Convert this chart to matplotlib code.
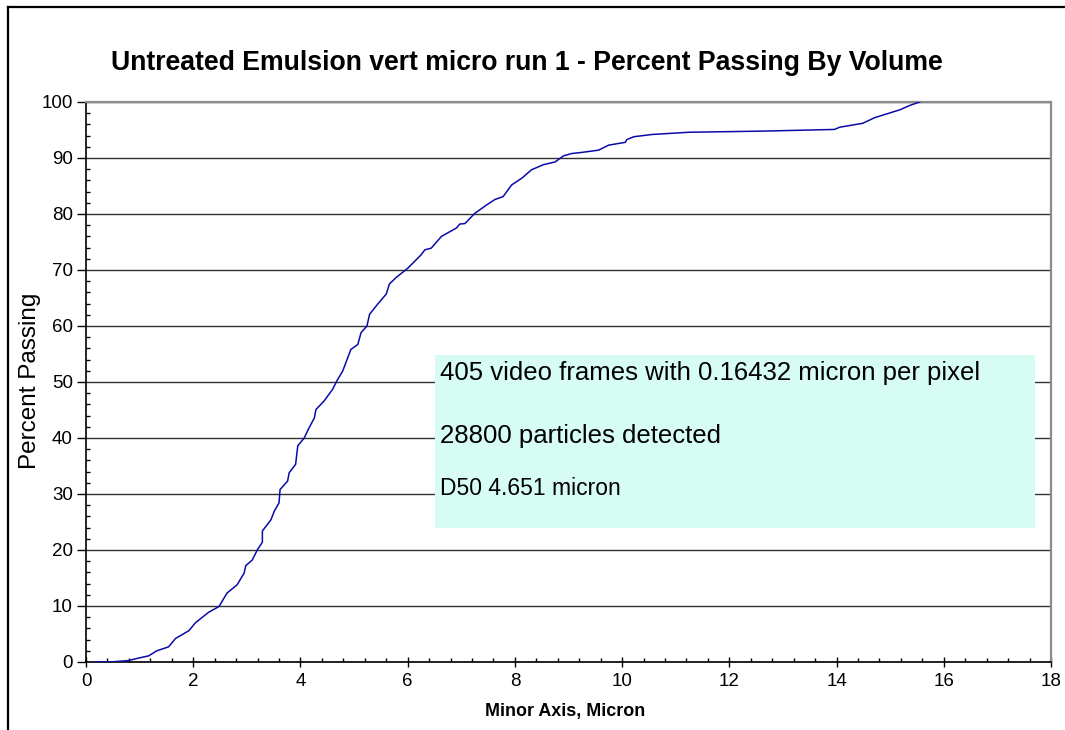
import matplotlib
matplotlib.use("Agg")
import matplotlib.pyplot as plt
from matplotlib.lines import Line2D
from matplotlib.patches import Rectangle
from matplotlib.ticker import MultipleLocator

# cumulative percent passing by volume vs minor axis (micron)
minor_axis = [0.15, 0.51, 0.79, 0.98, 1.17, 1.32, 1.54, 1.67, 1.92, 2.04, 2.29,
              2.48, 2.63, 2.82, 2.95, 2.98, 3.10, 3.20, 3.29, 3.29, 3.45, 3.51,
              3.60, 3.62, 3.76, 3.79, 3.91, 3.95, 4.07, 4.16, 4.26, 4.29, 4.44,
              4.60, 4.68, 4.79, 4.94, 5.07, 5.13, 5.24, 5.29, 5.44, 5.60, 5.66,
              5.79, 6.00, 6.25, 6.32, 6.44, 6.63, 6.91, 6.97, 7.07, 7.25, 7.47,
              7.63, 7.78, 7.94, 8.13, 8.31, 8.53, 8.75, 8.91, 9.06, 9.25, 9.56,
              9.75, 10.06, 10.09, 10.22, 10.56, 11.25, 12.62, 13.96, 14.06, 14.49,
              14.71, 15.18, 15.37, 15.55]
pct_passing = [0.0, 0.05, 0.25, 0.7, 1.1, 2.0, 2.7, 4.2, 5.6, 7.0, 8.9,
               9.9, 12.3, 13.8, 15.9, 17.2, 18.2, 20.1, 21.4, 23.4, 25.4, 26.9,
               28.4, 30.8, 32.3, 33.8, 35.3, 38.6, 40.0, 41.8, 43.6, 45.1, 46.6,
               48.7, 50.2, 52.0, 55.8, 56.7, 58.8, 60.0, 62.1, 63.9, 65.7, 67.5,
               68.7, 70.3, 72.7, 73.6, 73.9, 76.0, 77.5, 78.2, 78.3, 80.1, 81.6,
               82.6, 83.1, 85.2, 86.4, 87.9, 88.8, 89.3, 90.4, 90.8, 91.0, 91.4,
               92.3, 92.8, 93.3, 93.8, 94.2, 94.6, 94.8, 95.1, 95.5, 96.2,
               97.2, 98.6, 99.4, 100.0]

TITLE = "Untreated Emulsion vert micro run 1 - Percent Passing By Volume"
NOTES = ["405 video frames with 0.16432 micron per pixel",
         "28800 particles detected",
         "D50 4.651 micron"]

plt.rcParams["font.family"] = ["Liberation Sans", "DejaVu Sans"]

fig = plt.figure(figsize=(10.65, 7.3), dpi=100)
ax = fig.add_axes([86 / 1065, 68 / 730, 965 / 1065, 560 / 730])

ax.plot(minor_axis, pct_passing, color="#0a0aa8", lw=1.1, zorder=3)

ax.set_xlim(0, 18)
ax.set_ylim(0, 100)
ax.xaxis.set_major_locator(MultipleLocator(2))
ax.xaxis.set_minor_locator(MultipleLocator(0.4))
ax.yaxis.set_major_locator(MultipleLocator(10))
ax.yaxis.set_minor_locator(MultipleLocator(2))
ax.grid(True, axis="y", which="major", color="#303030", lw=1.0, zorder=1)

ax.tick_params(axis="x", which="major", direction="inout", length=7.5, width=1,
               labelsize=13.5, pad=4)
ax.tick_params(axis="x", which="minor", direction="in", length=3, width=1)
ax.tick_params(axis="y", which="major", direction="out", length=6.5, width=1,
               labelsize=13.5, pad=3)
ax.tick_params(axis="y", which="minor", direction="in", length=3, width=1)

for side in ["left", "bottom"]:
    ax.spines[side].set_color("black")
    ax.spines[side].set_linewidth(1.2)
for side in ["top", "right"]:
    ax.spines[side].set_color("#8c8c8c")
    ax.spines[side].set_linewidth(1.6)

fig.text(0.4944, 0.9137, TITLE, ha="center", va="center",
         fontsize=19.2, fontweight="bold")
fig.text(0.028, 0.478, "Percent Passing", rotation=90, ha="center", va="center",
         fontsize=17.5)
fig.text(0.531, 0.026, "Minor Axis, Micron", ha="center", va="center",
         fontsize=12.9, fontweight="bold")

# annotation box
fig.patches.append(Rectangle((435 / 1065, 202 / 730), 600 / 1065, 173 / 730,
                             transform=fig.transFigure, facecolor="#d6fcf4",
                             edgecolor="none", zorder=5))
fig.text(440 / 1065, 0.489, NOTES[0], ha="left", va="center", fontsize=18.5, zorder=6)
fig.text(440 / 1065, 0.403, NOTES[1], ha="left", va="center", fontsize=18.5, zorder=6)
fig.text(440 / 1065, 0.331, NOTES[2], ha="left", va="center", fontsize=16.5, zorder=6)

# outer chart frame
fig.lines.append(Line2D([8 / 1065, 8 / 1065], [0, 723 / 730], transform=fig.transFigure,
                        color="black", lw=1.6))
fig.lines.append(Line2D([8 / 1065, 1], [723 / 730, 723 / 730], transform=fig.transFigure,
                        color="black", lw=1.6))

fig.savefig("out.png", dpi=100)
